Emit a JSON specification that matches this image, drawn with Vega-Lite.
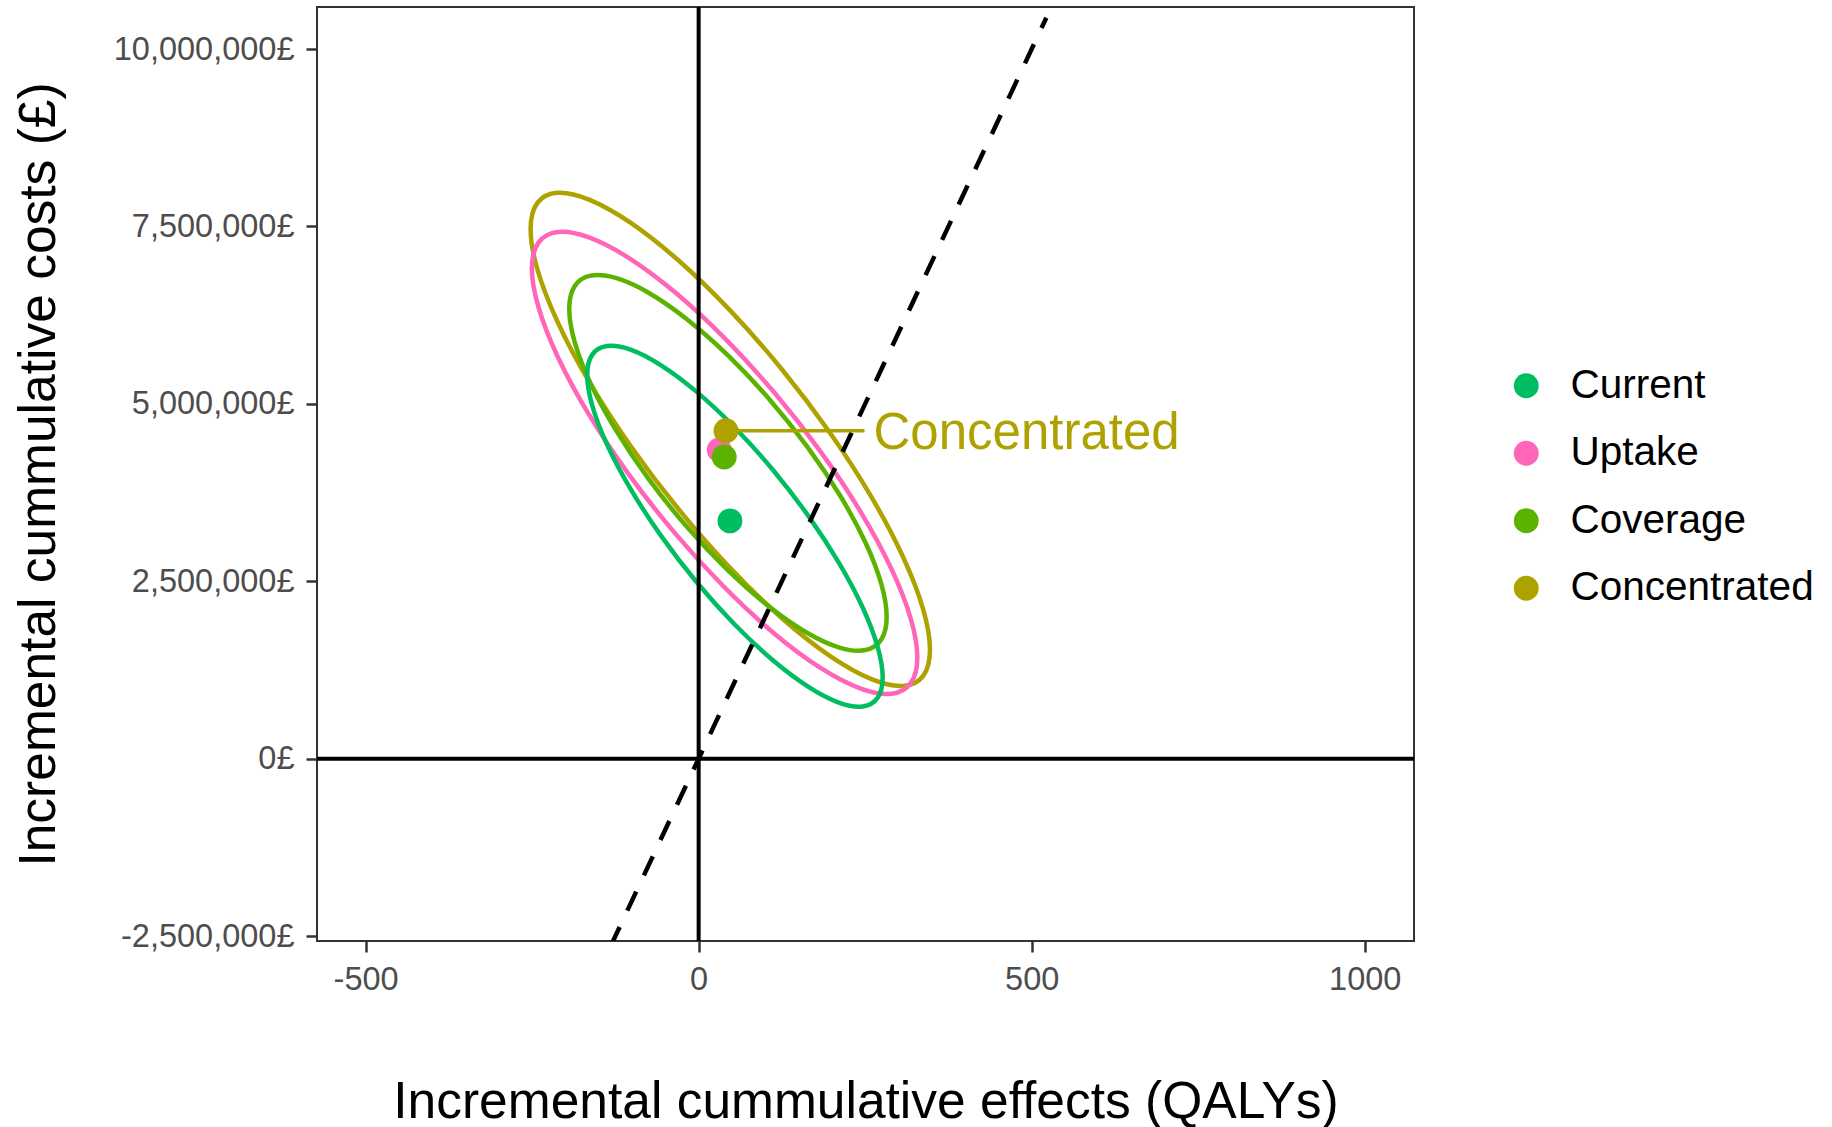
{
  "$schema": "https://vega.github.io/schema/vega-lite/v6.json",
  "width": 1097,
  "height": 934,
  "autosize": {"type": "none"},
  "padding": {"left": 317, "top": 7, "right": 418, "bottom": 186},
  "background": "white",
  "config": {
    "font": "Liberation Sans",
    "view": {"stroke": "#333333", "strokeWidth": 2},
    "axis": {
      "grid": false,
      "domain": false,
      "tickColor": "#333333",
      "tickWidth": 2.5,
      "tickSize": 11,
      "labelFont": "Liberation Sans",
      "labelFontSize": 32.5,
      "labelColor": "#4D4D4D",
      "labelLimit": 0,
      "titleFont": "Liberation Sans",
      "titleFontSize": 51.5,
      "titleFontWeight": "normal",
      "titleColor": "black",
      "titleLimit": 0,
      "labelPadding": 12
    }
  },
  "resolve": {"scale": {"color": "independent"}, "legend": {"color": "independent"}},
  "datasets": {
    "ellipses": [
      {"scenario": "Concentrated", "i": 0, "x": 347.3, "y": 1534000},
      {"scenario": "Concentrated", "i": 1, "x": 337.1, "y": 2105000},
      {"scenario": "Concentrated", "i": 2, "x": 307.1, "y": 2838000},
      {"scenario": "Concentrated", "i": 3, "x": 259.5, "y": 3685000},
      {"scenario": "Concentrated", "i": 4, "x": 197.4, "y": 4588000},
      {"scenario": "Concentrated", "i": 5, "x": 125.1, "y": 5484000},
      {"scenario": "Concentrated", "i": 6, "x": 47.5, "y": 6313000},
      {"scenario": "Concentrated", "i": 7, "x": -30.1, "y": 7019000},
      {"scenario": "Concentrated", "i": 8, "x": -102.4, "y": 7553000},
      {"scenario": "Concentrated", "i": 9, "x": -164.5, "y": 7878000},
      {"scenario": "Concentrated", "i": 10, "x": -212.1, "y": 7974000},
      {"scenario": "Concentrated", "i": 11, "x": -242.1, "y": 7832000},
      {"scenario": "Concentrated", "i": 12, "x": -252.3, "y": 7464000},
      {"scenario": "Concentrated", "i": 13, "x": -242.1, "y": 6893000},
      {"scenario": "Concentrated", "i": 14, "x": -212.1, "y": 6160000},
      {"scenario": "Concentrated", "i": 15, "x": -164.5, "y": 5313000},
      {"scenario": "Concentrated", "i": 16, "x": -102.4, "y": 4410000},
      {"scenario": "Concentrated", "i": 17, "x": -30.1, "y": 3514000},
      {"scenario": "Concentrated", "i": 18, "x": 47.5, "y": 2685000},
      {"scenario": "Concentrated", "i": 19, "x": 125.1, "y": 1979000},
      {"scenario": "Concentrated", "i": 20, "x": 197.4, "y": 1445000},
      {"scenario": "Concentrated", "i": 21, "x": 259.5, "y": 1120000},
      {"scenario": "Concentrated", "i": 22, "x": 307.1, "y": 1024000},
      {"scenario": "Concentrated", "i": 23, "x": 337.1, "y": 1166000},
      {"scenario": "Uptake", "i": 0, "x": 328.3, "y": 1426000},
      {"scenario": "Uptake", "i": 1, "x": 318.4, "y": 1974000},
      {"scenario": "Uptake", "i": 2, "x": 289.5, "y": 2672000},
      {"scenario": "Uptake", "i": 3, "x": 243.6, "y": 3471000},
      {"scenario": "Uptake", "i": 4, "x": 183.6, "y": 4319000},
      {"scenario": "Uptake", "i": 5, "x": 113.9, "y": 5155000},
      {"scenario": "Uptake", "i": 6, "x": 39.0, "y": 5925000},
      {"scenario": "Uptake", "i": 7, "x": -35.9, "y": 6575000},
      {"scenario": "Uptake", "i": 8, "x": -105.7, "y": 7061000},
      {"scenario": "Uptake", "i": 9, "x": -165.6, "y": 7349000},
      {"scenario": "Uptake", "i": 10, "x": -211.5, "y": 7422000},
      {"scenario": "Uptake", "i": 11, "x": -240.5, "y": 7272000},
      {"scenario": "Uptake", "i": 12, "x": -250.4, "y": 6910000},
      {"scenario": "Uptake", "i": 13, "x": -240.5, "y": 6362000},
      {"scenario": "Uptake", "i": 14, "x": -211.6, "y": 5664000},
      {"scenario": "Uptake", "i": 15, "x": -165.7, "y": 4865000},
      {"scenario": "Uptake", "i": 16, "x": -105.7, "y": 4017000},
      {"scenario": "Uptake", "i": 17, "x": -36.0, "y": 3181000},
      {"scenario": "Uptake", "i": 18, "x": 39.0, "y": 2411000},
      {"scenario": "Uptake", "i": 19, "x": 113.8, "y": 1761000},
      {"scenario": "Uptake", "i": 20, "x": 183.6, "y": 1275000},
      {"scenario": "Uptake", "i": 21, "x": 243.5, "y": 987000},
      {"scenario": "Uptake", "i": 22, "x": 289.4, "y": 914000},
      {"scenario": "Uptake", "i": 23, "x": 318.4, "y": 1064000},
      {"scenario": "Coverage", "i": 0, "x": 282.3, "y": 1997000},
      {"scenario": "Coverage", "i": 1, "x": 274.2, "y": 2463000},
      {"scenario": "Coverage", "i": 2, "x": 250.4, "y": 3046000},
      {"scenario": "Coverage", "i": 3, "x": 212.5, "y": 3704000},
      {"scenario": "Coverage", "i": 4, "x": 163.2, "y": 4394000},
      {"scenario": "Coverage", "i": 5, "x": 105.7, "y": 5069000},
      {"scenario": "Coverage", "i": 6, "x": 44.0, "y": 5683000},
      {"scenario": "Coverage", "i": 7, "x": -17.7, "y": 6193000},
      {"scenario": "Coverage", "i": 8, "x": -75.2, "y": 6566000},
      {"scenario": "Coverage", "i": 9, "x": -124.5, "y": 6774000},
      {"scenario": "Coverage", "i": 10, "x": -162.4, "y": 6806000},
      {"scenario": "Coverage", "i": 11, "x": -186.2, "y": 6657000},
      {"scenario": "Coverage", "i": 12, "x": -194.3, "y": 6339000},
      {"scenario": "Coverage", "i": 13, "x": -186.2, "y": 5873000},
      {"scenario": "Coverage", "i": 14, "x": -162.4, "y": 5290000},
      {"scenario": "Coverage", "i": 15, "x": -124.5, "y": 4632000},
      {"scenario": "Coverage", "i": 16, "x": -75.2, "y": 3942000},
      {"scenario": "Coverage", "i": 17, "x": -17.7, "y": 3267000},
      {"scenario": "Coverage", "i": 18, "x": 44.0, "y": 2653000},
      {"scenario": "Coverage", "i": 19, "x": 105.7, "y": 2143000},
      {"scenario": "Coverage", "i": 20, "x": 163.2, "y": 1770000},
      {"scenario": "Coverage", "i": 21, "x": 212.5, "y": 1562000},
      {"scenario": "Coverage", "i": 22, "x": 250.4, "y": 1530000},
      {"scenario": "Coverage", "i": 23, "x": 274.2, "y": 1679000},
      {"scenario": "Current", "i": 0, "x": 276.3, "y": 1143000},
      {"scenario": "Current", "i": 1, "x": 268.7, "y": 1575000},
      {"scenario": "Current", "i": 2, "x": 246.6, "y": 2123000},
      {"scenario": "Current", "i": 3, "x": 211.3, "y": 2748000},
      {"scenario": "Current", "i": 4, "x": 165.4, "y": 3411000},
      {"scenario": "Current", "i": 5, "x": 111.9, "y": 4064000},
      {"scenario": "Current", "i": 6, "x": 54.5, "y": 4663000},
      {"scenario": "Current", "i": 7, "x": -2.9, "y": 5168000},
      {"scenario": "Current", "i": 8, "x": -56.4, "y": 5543000},
      {"scenario": "Current", "i": 9, "x": -102.3, "y": 5764000},
      {"scenario": "Current", "i": 10, "x": -137.6, "y": 5815000},
      {"scenario": "Current", "i": 11, "x": -159.7, "y": 5693000},
      {"scenario": "Current", "i": 12, "x": -167.3, "y": 5407000},
      {"scenario": "Current", "i": 13, "x": -159.7, "y": 4975000},
      {"scenario": "Current", "i": 14, "x": -137.6, "y": 4427000},
      {"scenario": "Current", "i": 15, "x": -102.3, "y": 3802000},
      {"scenario": "Current", "i": 16, "x": -56.4, "y": 3139000},
      {"scenario": "Current", "i": 17, "x": -2.9, "y": 2486000},
      {"scenario": "Current", "i": 18, "x": 54.5, "y": 1887000},
      {"scenario": "Current", "i": 19, "x": 111.9, "y": 1382000},
      {"scenario": "Current", "i": 20, "x": 165.4, "y": 1007000},
      {"scenario": "Current", "i": 21, "x": 211.3, "y": 786000},
      {"scenario": "Current", "i": 22, "x": 246.6, "y": 735000},
      {"scenario": "Current", "i": 23, "x": 268.7, "y": 857000}
    ],
    "points": [
      {"scenario": "Current", "x": 47.0, "y": 3350000},
      {"scenario": "Uptake", "x": 30.9, "y": 4350000},
      {"scenario": "Coverage", "x": 38.4, "y": 4250000},
      {"scenario": "Concentrated", "x": 41.0, "y": 4620000}
    ],
    "threshold": [
      {"x": -132, "y": -2640000},
      {"x": 522, "y": 10440000}
    ],
    "zero": [
      {"v": 0}
    ],
    "labels": [
      {"label": "Concentrated", "x": 41.0, "y": 4620000, "xend": 249}
    ]
  },
  "layer": [
    {
      "data": {"name": "ellipses"},
      "mark": {"type": "line", "interpolate": "cardinal-closed", "strokeWidth": 4.5, "clip": true},
      "encoding": {
        "x": {
          "field": "x", "type": "quantitative",
          "scale": {"domain": [-573, 1074], "nice": false, "zero": false},
          "title": "Incremental cummulative effects (QALYs)",
          "axis": {
            "values": [-500, 0, 500, 1000],
            "labelExpr": "replace(format(datum.value, 'd'), '\u2212', '-')",
            "labelPadding": 11,
            "labelFlush": false,
            "labelOverlap": false,
            "titleY": 176,
            "titleBaseline": "alphabetic"
          }
        },
        "y": {
          "field": "y", "type": "quantitative",
          "scale": {"domain": [-2570000, 10592000], "nice": false, "zero": false},
          "title": "Incremental cummulative costs (£)",
          "axis": {
            "values": [-2500000, 0, 2500000, 5000000, 7500000, 10000000],
            "labelExpr": "replace(format(datum.value, ','), '\u2212', '-') + '£'",
            "labelOverlap": false,
            "labelFlush": false,
            "labelLimit": 0,
            "titleX": -263,
            "titleBaseline": "alphabetic"
          }
        },
        "color": {
          "field": "scenario", "type": "nominal",
          "scale": {"domain": ["Current", "Uptake", "Coverage", "Concentrated"], "range": ["#00BD62", "#FF65B8", "#5BB300", "#AEA200"]},
          "legend": null
        },
        "order": {"field": "i", "type": "quantitative"}
      }
    },
    {
      "data": {"name": "zero"},
      "mark": {"type": "rule", "color": "black", "strokeWidth": 4},
      "encoding": {
        "x": {"field": "v", "type": "quantitative", "scale": {"domain": [-573, 1074], "nice": false, "zero": false}}
      }
    },
    {
      "data": {"name": "zero"},
      "mark": {"type": "rule", "color": "black", "strokeWidth": 4},
      "encoding": {
        "y": {"field": "v", "type": "quantitative", "scale": {"domain": [-2570000, 10592000], "nice": false, "zero": false}}
      }
    },
    {
      "data": {"name": "threshold"},
      "mark": {"type": "line", "color": "black", "strokeWidth": 4.5, "strokeDash": [21, 18], "clip": true},
      "encoding": {
        "x": {"field": "x", "type": "quantitative", "scale": {"domain": [-573, 1074], "nice": false, "zero": false}},
        "y": {"field": "y", "type": "quantitative", "scale": {"domain": [-2570000, 10592000], "nice": false, "zero": false}}
      }
    },
    {
      "data": {"name": "labels"},
      "mark": {"type": "rule", "color": "#AEA200", "strokeWidth": 3.5},
      "encoding": {
        "x": {"field": "x", "type": "quantitative", "scale": {"domain": [-573, 1074], "nice": false, "zero": false}},
        "x2": {"field": "xend"},
        "y": {"field": "y", "type": "quantitative", "scale": {"domain": [-2570000, 10592000], "nice": false, "zero": false}}
      }
    },
    {
      "data": {"name": "points"},
      "mark": {"type": "circle", "size": 620, "opacity": 1},
      "encoding": {
        "x": {"field": "x", "type": "quantitative", "scale": {"domain": [-573, 1074], "nice": false, "zero": false}},
        "y": {"field": "y", "type": "quantitative", "scale": {"domain": [-2570000, 10592000], "nice": false, "zero": false}},
        "color": {
          "field": "scenario", "type": "nominal",
          "scale": {"domain": ["Current", "Uptake", "Coverage", "Concentrated"], "range": ["#00BD62", "#FF65B8", "#5BB300", "#AEA200"]},
          "legend": {
            "title": null,
            "orient": "none",
            "legendX": 1189,
            "legendY": 358.5,
            "padding": 0,
            "labelFont": "Liberation Sans",
            "labelFontSize": 40.5,
            "labelColor": "black",
            "labelLimit": 0,
            "labelOffset": 24,
            "symbolType": "circle",
            "symbolSize": 620,
            "symbolStrokeWidth": 0,
            "symbolOpacity": 1,
            "rowPadding": 26.5
          }
        }
      }
    },
    {
      "data": {"name": "labels"},
      "mark": {"type": "text", "align": "left", "baseline": "middle", "dx": 9, "dy": 3, "fontSize": 51, "font": "Liberation Sans", "color": "#AEA200"},
      "encoding": {
        "x": {"field": "xend", "type": "quantitative", "scale": {"domain": [-573, 1074], "nice": false, "zero": false}},
        "y": {"field": "y", "type": "quantitative", "scale": {"domain": [-2570000, 10592000], "nice": false, "zero": false}},
        "text": {"field": "label"}
      }
    }
  ]
}
